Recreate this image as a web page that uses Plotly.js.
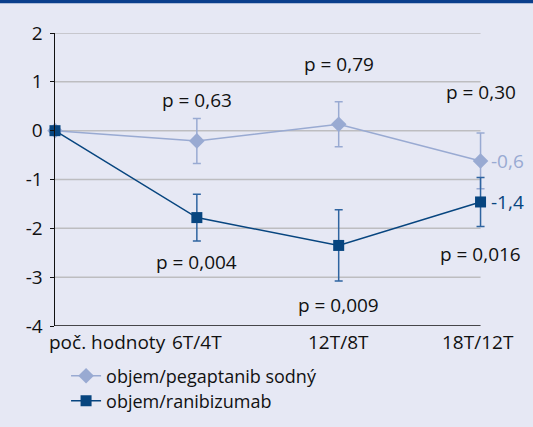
<!DOCTYPE html>
<html>
<head>
<meta charset="utf-8">
<script src="https://cdn.plot.ly/plotly-3.0.1.min.js"></script>
<style>
html,body{margin:0;padding:0;background:#e6e8f4;}
#chart{width:533px;height:427px;}
</style>
</head>
<body>
<div id="chart"></div>
<script>
const categories = ["poč. hodnoty", "6T/4T", "12T/8T", "18T/12T"];
const pegaptanib = [0, -0.21, 0.13, -0.62];
const pegaptanibErr = [0, 0.46, 0.46, 0.57];
const ranibizumab = [0, -1.78, -2.35, -1.46];
const ranibizumabErr = [0, 0.48, 0.73, 0.5];
const pegLabels = ["p = 0,63", "p = 0,79", "p = 0,30"];
const pegLabelY = [0.62, 1.36, 0.79];
const ranLabels = ["p = 0,004", "p = 0,009", "p = 0,016"];
const ranLabelY = [-2.69, -3.56, -2.52];
const endLabels = ["-0,6", "-1,4"];
const yTicks = [-4, -3, -2, -1, 0, 1, 2];

const idx = categories.map((c, i) => i);
const last = idx[idx.length - 1];
const FONT = "Open Sans, sans-serif";
const FS = 19;
const pegColor = "#99aad2";
const ranColor = "#07457f";

const traces = [
  {
    x: idx, y: pegaptanib, name: "objem/pegaptanib sodný", type: "scatter", mode: "lines+markers",
    line: {color: pegColor, width: 1.5},
    marker: {symbol: "diamond", size: 12, color: pegColor},
    error_y: {type: "data", array: pegaptanibErr, visible: true, color: pegColor, thickness: 1.5, width: 4},
    cliponaxis: false,
    legend: "legend"
  },
  {
    x: idx, y: ranibizumab, name: "objem/ranibizumab", type: "scatter", mode: "lines+markers",
    line: {color: ranColor, width: 1.5},
    marker: {symbol: "square", size: 11, color: ranColor},
    error_y: {type: "data", array: ranibizumabErr, visible: true, color: "#2f64a0", thickness: 1.5, width: 4},
    cliponaxis: false,
    legend: "legend2"
  }
];

const annotations = [];
for (let i = 0; i < 3; i++) {
  annotations.push({x: i + 1, y: pegLabelY[i], text: pegLabels[i], showarrow: false, font: {family: FONT, size: FS, color: "#111"}});
  annotations.push({x: i + 1, y: ranLabelY[i], text: ranLabels[i], showarrow: false, font: {family: FONT, size: FS, color: "#111"}});
}
annotations.push({x: last, y: pegaptanib[3], text: endLabels[0], showarrow: false, xanchor: "left", xshift: 8, font: {family: FONT, size: FS, color: pegColor}});
annotations.push({x: last, y: ranibizumab[3], text: endLabels[1], showarrow: false, xanchor: "left", xshift: 8, font: {family: FONT, size: FS, color: ranColor}});
// category labels
categories.forEach((c, i) => {
  annotations.push({
    x: i, y: 0, yref: "paper", yanchor: "top", yshift: -1,
    xanchor: i === 0 ? "left" : "center", xshift: i === 0 ? -8 : (i === 3 ? -3 : 0),
    text: c, showarrow: false, font: {family: FONT, size: FS, color: "#111"}
  });
});

const shapes = [
  {type: "rect", xref: "paper", yref: "paper", x0: -0.2, x1: 1.2, y0: 1.1015, y1: 1.2, fillcolor: "#0b3f8c", line: {width: 0}}
];
// horizontal gridlines, ending at the last category like the reference
yTicks.filter(v => v > yTicks[0]).forEach(v => {
  shapes.push({type: "line", xref: "x", yref: "y", x0: 0, x1: last, y0: v, y1: v, layer: "below", line: {color: "#bdbdc0", width: 1.5}});
});
// category (x) axis line and its small tick at the first category
shapes.push({type: "line", xref: "x", yref: "y", x0: 0, x1: last, y0: yTicks[0], y1: yTicks[0], layer: "below", line: {color: "#111", width: 1.5}});
shapes.push({type: "line", xref: "x", yref: "y", ysizemode: "pixel", yanchor: yTicks[0], x0: 0, x1: 0, y0: 0, y1: -5, line: {color: "#111", width: 1.5}});

const legendCommon = {xanchor: "left", yanchor: "middle", bgcolor: "rgba(0,0,0,0)", font: {family: FONT, size: 18, color: "#111"}, borderwidth: 0};

const layout = {
  width: 533, height: 427,
  paper_bgcolor: "#e6e8f4", plot_bgcolor: "rgba(0,0,0,0)",
  margin: {l: 55, r: 16.5, t: 33, b: 101, autoexpand: false},
  showlegend: true,
  legend: Object.assign({x: 0.024, y: -0.171}, legendCommon),
  legend2: Object.assign({x: 0.024, y: -0.256}, legendCommon),
  xaxis: {
    range: [0, 3.25], tickvals: idx, showticklabels: false, showgrid: false, zeroline: false,
    showline: false, ticks: "", fixedrange: true
  },
  yaxis: {
    range: [-4, 2], tickvals: yTicks, ticktext: yTicks.map(String), showgrid: false,
    zeroline: false, showline: true, linecolor: "#111", linewidth: 1.5, ticks: "outside", ticklen: 4, tickcolor: "#111",
    tickfont: {family: FONT, size: FS, color: "#111"}, ticklabelstandoff: 3
  },
  annotations: annotations,
  shapes: shapes
};

Plotly.newPlot("chart", traces, layout, {staticPlot: true});
</script>
</body>
</html>
